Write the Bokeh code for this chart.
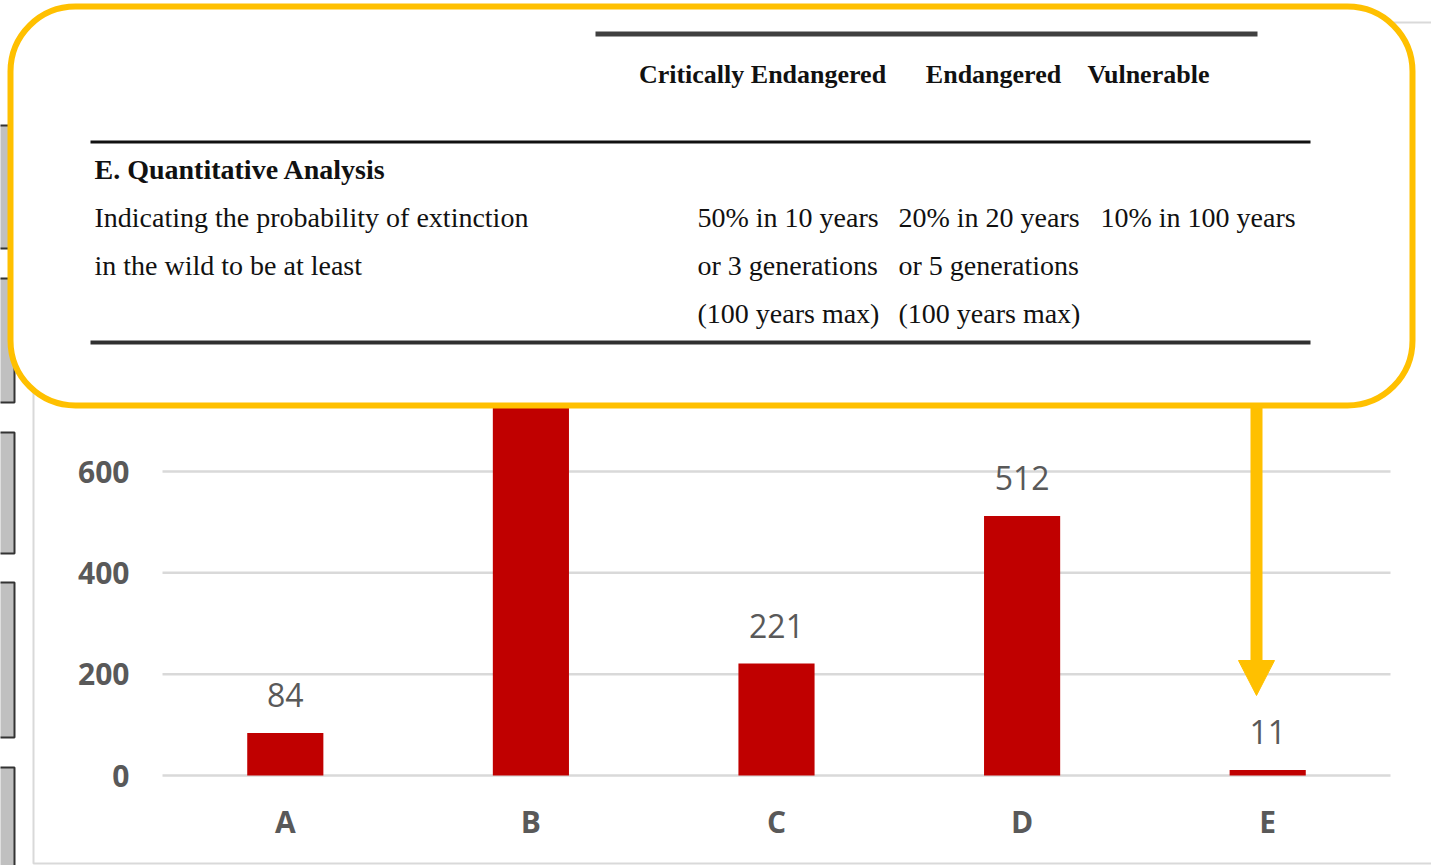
from bokeh.plotting import figure
from bokeh.models import (Range1d, FixedTicker, LabelSet, ColumnDataSource, LinearAxis,
                          BoxAnnotation, PolyAnnotation, Label)
from bokeh.core.properties import value
from bokeh.embed import file_html
from bokeh.resources import INLINE

# ---------------- data ----------------
categories = ["A", "B", "C", "D", "E"]
counts = [84, 1180, 221, 512, 11]
y_ticks = [0, 200, 400, 600, 800, 1000, 1200, 1400]

table_columns = ["Critically Endangered", "Endangered", "Vulnerable"]
table_title = "E. Quantitative Analysis"
table_row_label = ["Indicating the probability of extinction", "in the wild to be at least"]
table_cells = [
    ["50% in 10 years", "or 3 generations", "(100 years max)"],
    ["20% in 20 years", "or 5 generations", "(100 years max)"],
    ["10% in 100 years"],
]

# ---------------- layout (pixels of the page) ----------------
W, H = 1431, 865
PLOT_L, PLOT_R = 162, 1390      # gridline extent
ZERO_Y = 775                    # pixel row of value 0
PX_PER_UNIT = 304 / 600         # vertical scale
n = len(categories)
px_per_cat = (PLOT_R - PLOT_L) / n
x_start = -0.5 - PLOT_L / px_per_cat
x_end = x_start + W / px_per_cat
y_start = -(H - ZERO_Y) / PX_PER_UNIT
y_end = ZERO_Y / PX_PER_UNIT

BAR = "#C00000"
GRID = "#D9D9D9"
AXT = "#595959"
GOLD = "#FFC000"
SERIF = "Liberation Serif"
SANS = "Open Sans"
TXT_FIX = 12   # shift so the text sits where the reference shows it


def sx(rx):
    return rx


def sy(ry):
    return H - ry


p = figure(width=W, height=H, x_range=Range1d(x_start, x_end), y_range=Range1d(y_start, y_end),
           output_backend="svg", toolbar_location=None, tools="",
           x_axis_location=None, y_axis_location=None,
           min_border=0, min_border_left=0, min_border_right=0, min_border_top=0, min_border_bottom=0)
p.outline_line_color = None
p.background_fill_color = "white"
p.border_fill_color = "white"
p.grid.visible = False

xpos = [i for i in range(n)]

# axes (placed inside the frame at fixed data locations)
yax = LinearAxis(fixed_location=-0.5, ticker=FixedTicker(ticks=y_ticks))
xax = LinearAxis(fixed_location=0, ticker=FixedTicker(ticks=xpos),
                 major_label_overrides={i: c for i, c in zip(xpos, categories)})
for ax in (xax, yax):
    ax.axis_line_color = None
    ax.major_tick_line_color = None
    ax.minor_tick_line_color = None
    ax.major_tick_out = 0
    ax.major_tick_in = 0
    ax.major_label_text_font = SANS
    ax.major_label_text_font_style = "bold"
    ax.major_label_text_font_size = "30px"
    ax.major_label_text_color = AXT
yax.major_label_standoff = 33
xax.major_label_standoff = 25
p.add_layout(yax, "left")
p.add_layout(xax, "below")

# gridlines
p.segment(x0=-0.5, x1=n - 0.5, y0=y_ticks, y1=y_ticks, line_color=GRID, line_width=2.5)

src = ColumnDataSource(dict(x=xpos, val=counts, lbl=[str(v) for v in counts]))
p.vbar(x="x", top="val", width=0.31, source=src, fill_color=BAR, line_color=None)
p.add_layout(LabelSet(x="x", y="val", text="lbl", source=src, y_offset=26,
                      text_align="center", text_baseline="alphabetic",
                      text_font=value(SANS), text_font_size="32px", text_color=AXT))

SCR = dict(left_units="screen", right_units="screen", top_units="screen", bottom_units="screen")

# ---------- background decorations (chart frame, side panels) ----------
p.add_layout(BoxAnnotation(left=sx(33), right=sx(1460), top=sy(22), bottom=sy(863), **SCR,
                           fill_alpha=0, line_color=GRID, line_alpha=1, line_width=2, level="underlay"))
for (t, b) in [(125, 248), (278, 402), (432, 553), (582, 737), (767, 880)]:
    p.add_layout(BoxAnnotation(left=sx(-10), right=sx(14), top=sy(t), bottom=sy(b), **SCR,
                               fill_color="#C0C0C0", fill_alpha=1, line_color="#333333",
                               line_alpha=1, line_width=2, level="underlay"))

# ---------- callout ----------
p.add_layout(BoxAnnotation(left=sx(10), right=sx(1412), top=sy(6), bottom=sy(405), **SCR,
                           fill_color="white", fill_alpha=1, line_color=GOLD, line_alpha=1,
                           line_width=6, border_radius=65))
# arrow
p.add_layout(BoxAnnotation(left=sx(1250), right=sx(1262), top=sy(406), bottom=sy(662), **SCR,
                           fill_color=GOLD, fill_alpha=1, line_color=None))
p.add_layout(PolyAnnotation(xs=[sx(1238), sx(1274), sx(1256)], ys=[sy(660), sy(660), sy(695)],
                            xs_units="screen", ys_units="screen",
                            fill_color=GOLD, fill_alpha=1, line_color=GOLD, line_alpha=1, line_width=1))

# table rules
for (l, r, t, b, c) in [(595, 1257, 31, 36, "#404040"), (90, 1310, 140, 143, "#111111"),
                        (90, 1310, 340, 344, "#303030")]:
    p.add_layout(BoxAnnotation(left=sx(l), right=sx(r), top=sy(t), bottom=sy(b), **SCR,
                               fill_color=c, fill_alpha=1, line_color=None))


def lab(txt, rx, ry, align="left", style="normal", size="28px"):
    p.add_layout(Label(x=sx(rx), y=sy(ry - TXT_FIX), x_units="screen", y_units="screen", text=txt,
                       text_font=SERIF, text_font_size=size, text_font_style=style,
                       text_align=align, text_baseline="alphabetic", text_color="#111111"))


for txt, cx in zip(table_columns, [762, 993, 1148]):
    lab(txt, cx, 86, align="center", style="bold", size="26px")
lab(table_title, 94, 181, style="bold")
for i, t in enumerate(table_row_label):
    lab(t, 94, 229 + 48 * i)
for col, rx in zip(table_cells, [697, 898, 1100]):
    for i, t in enumerate(col):
        lab(t, rx, 229 + 48 * i)

open("out.html", "w").write(file_html(p, INLINE))
